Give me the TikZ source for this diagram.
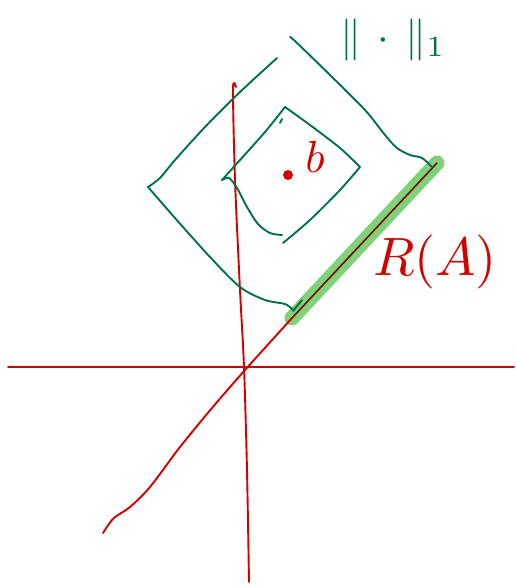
\documentclass[tikz,border=0pt]{standalone}
\usepackage{tikz}
\usepackage{xcolor}
\usetikzlibrary{positioning}
\definecolor{inkred}{HTML}{D40000}
\definecolor{inkgreen}{HTML}{00704F}
\definecolor{marker}{HTML}{80D27A}
\definecolor{darkink}{HTML}{7A0A0A}

\begin{document}
\begin{tikzpicture}[
  x=1pt, y=-1pt,
  redline/.style={draw=inkred, line width=1.9pt, line cap=round, line join=round},
  greenline/.style={draw=inkgreen, line width=1.9pt, line cap=round, line join=round},
  highlight/.style={draw=marker, line width=15pt, line cap=round},
  note/.style={inner sep=0pt, anchor=center}
]
\useasboundingbox (0,0) rectangle (516,587);
% axes
\draw[redline] (8,367) -- (514,367);
\draw[redline] plot[smooth] coordinates {(236,87) (233,89) (235,180) (240,290) (244,367) (247,470) (249,582)};
% range of A, marked in green
\draw[highlight] (292,318) -- (437,163);
\draw[redline] plot[smooth] coordinates {(103,533) (109,524) (115,517) (130,507) (150,487) (180,447) (212,408) (245,370) (292,318)};
\draw[draw=darkink, line width=1.6pt, line cap=round] (292,318) -- (437,163);
% outer diamond
\draw[greenline] plot[smooth] coordinates {(277,58) (240,92) (205,127) (175,160) (160,178) (148,187)};
\draw[greenline] plot[smooth] coordinates {(148,187) (175,218) (210,257) (240,287) (265,300) (285,304) (293,310)};
\draw[greenline] (293,311) -- (302,300);
\draw[greenline] plot[smooth] coordinates {(290,37) (296,42) (330,75) (365,110) (385,135) (397,148) (410,155) (422,158) (432,167)};
% inner diamond
\draw[greenline] plot[smooth] coordinates {(222,180) (240,160) (265,132) (285,107)};
\draw[greenline] plot[smooth] coordinates {(285,107) (310,125) (340,148) (360,167)};
\draw[greenline] plot[smooth] coordinates {(360,167) (340,190) (310,220) (283,243)};
\draw[greenline] plot[smooth] coordinates {(222,180) (229,178) (237,188) (247,207) (258,224) (270,233) (282,235)};
\draw[greenline] (280,123) -- (282,119);
% point b
\fill[inkred] (288,175) circle[radius=5pt];
\node[note, text=inkred, scale=4.5] (bpt) at (315,157) {$b$};
\node[note, text=inkgreen, scale=4.2] (norm) at (393,40) {$\|\,\cdot\,\|_1$};
\node[note, text=inkred, scale=5.4] (range) at (435,262) {$R(A)$};
\end{tikzpicture}
\end{document}
